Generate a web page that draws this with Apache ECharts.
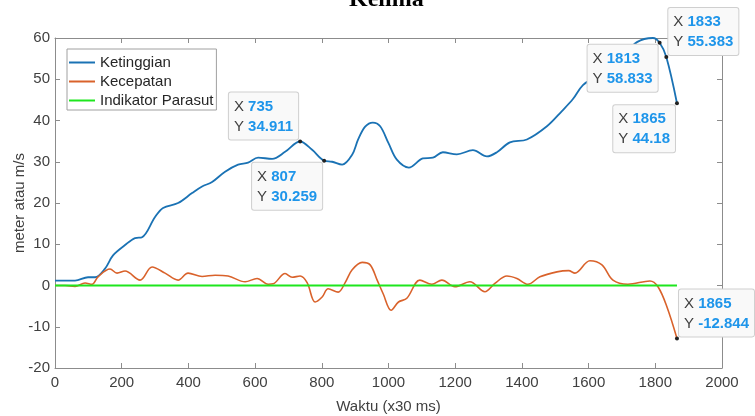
<!DOCTYPE html>
<html><head><meta charset="utf-8">
<script src="https://cdn.jsdelivr.net/npm/echarts@6/dist/echarts.min.js"></script>
<style>html,body{margin:0;padding:0;background:#fff}#c{width:755px;height:416px}</style>
</head><body><div id="c"></div>
<script>
// Ketinggian (altitude)
const heightX = [0,60,99,120,150,174,210,240,261,300,324,369,411,441,471,510,549,579,609,651,690,735,771,807,831,861,891,909,930,953,975,1000,1025,1061,1103,1133,1163,1205,1253,1295,1325,1364,1415,1475,1520,1553,1583,1620,1660,1700,1745,1793,1813,1833,1865];
const heightY = [1.2,1.2,2,2,4.1,7.3,9.8,11.5,11.7,16.6,18.8,20,22.4,24,25.1,27.6,29.3,29.8,31,30.7,32.4,34.911,32.9,30.259,30,29.3,31.7,35.4,38.5,39.5,38.6,34.5,30.5,28.6,30.8,31,32.3,31.8,32.8,31.3,32.3,34.7,35.4,38.6,42.3,45.2,48.6,50.5,52.5,55.3,59,60,58.833,55.383,44.18];
// Kecepatan (speed)
const speedX = [0,30,60,90,111,129,165,186,210,255,291,330,369,399,441,480,519,570,606,639,654,690,711,735,756,780,801,819,849,870,891,921,945,966,984,1008,1030,1055,1094,1130,1160,1199,1244,1289,1319,1355,1385,1418,1454,1505,1540,1559,1604,1640,1673,1718,1784,1808,1835,1865];
const speedY = [0,0,-0.2,0.6,0.3,2.1,4,3,3.5,1.3,4.5,3,1.3,3,2.2,2.5,2.3,0.9,1.7,0.3,0.4,2.9,2.0,2.3,0.7,-4,-2.8,-0.8,-1.6,0.7,3.8,5.6,5,1.3,-2,-6,-4,-3.1,1.3,0.3,1.3,-0.3,0.9,-1.5,0.5,2.3,1.7,0.3,2.1,3.3,3.6,3.0,6,5,1.3,0.3,1.1,-0.3,-5.2,-12.844];
// Indikator Parasut
const chuteX = [0,1865];
const chuteY = [0,0];
// data tips
const heightTipX = [735,807,1813,1833,1865];
const heightTipY = [34.911,30.259,58.833,55.383,44.18];
const speedTipX = [1865];
const speedTipY = [-12.844];
const seriesNames = ['Ketinggian','Kecepatan','Indikator Parasut'];
const titleText = 'Kelima';
const xName = 'Waktu (x30 ms)';
const yName = 'meter atau m/s';

const heightTipPlace = ['ul','dl','dl','ur','dl'];
const speedTipPlace = ['ur'];
const FONT = 'Liberation Sans, Arial, sans-serif';

function pairs(xs, ys){ return xs.map((x,i)=>[x, ys[i]]); }
function tips(xs, ys, places){
  return xs.map((x,i)=>{
    const p = places[i];
    const up = p[0]==='u', left = p[1]==='l';
    return {
      coord:[x, ys[i]],
      label:{
        show:true,
        position:['50%','50%'],
        align: left ? 'right':'left',
        verticalAlign: up ? 'bottom':'top',
        offset:[left?-2:2, up?-2:2],
        formatter:'{k|X }{v|'+x+'}\n{k|Y }{v|'+ys[i]+'}',
        backgroundColor:'#f9f9f9',
        borderColor:'#cfcfcf',
        borderWidth:1,
        borderRadius:2,
        padding:[4,5,3,5],
        fontSize:15,
        fontFamily:FONT,
        lineHeight:20,
        rich:{
          k:{color:'#404040',fontSize:15,fontFamily:FONT,lineHeight:20,align:'left'},
          v:{color:'#1e95ea',fontSize:15,fontWeight:'bold',fontFamily:FONT,lineHeight:20,align:'left'}
        }
      }
    };
  });
}
const mpBase = {symbol:'circle',symbolSize:4,itemStyle:{color:'#222'},silent:true};
const axisCol = '#8c8c8c';
const lblStyle = {color:'#404040',fontSize:15,fontFamily:FONT};
function xAx(pos, main){
  return {type:'value',min:0,max:2000,interval:200,position:pos,
    axisLine:{show:true,onZero:false,lineStyle:{color:axisCol,width:1}},
    axisTick:{show:true,inside:true,length:5,lineStyle:{color:axisCol}},
    axisLabel:Object.assign({show:main,margin:7,formatter:v=>String(v)},lblStyle),
    splitLine:{show:false},
    name: main ? xName : '', nameLocation:'middle', nameGap:31, nameMoveOverlap:false,
    nameTextStyle:Object.assign({},lblStyle)};
}
function yAx(pos, main){
  return {type:'value',min:-20,max:60,interval:10,position:pos,
    axisLine:{show:true,onZero:false,lineStyle:{color:axisCol,width:1}},
    axisTick:{show:true,inside:true,length:5,lineStyle:{color:axisCol}},
    axisLabel:Object.assign({show:main,margin:5,formatter:v=>String(v)},lblStyle),
    splitLine:{show:false},
    name: main ? yName : '', nameLocation:'middle', nameGap:28, nameMoveOverlap:false,
    nameTextStyle:Object.assign({},lblStyle)};
}
const chart = echarts.init(document.getElementById('c'));
chart.setOption({
  animation:false,
  backgroundColor:'#fff',
  title:{text:titleText,left:344,top:-17,textStyle:{fontFamily:'Liberation Serif, Times New Roman, serif',fontSize:24,fontWeight:'bold',color:'#000'}},
  grid:{left:55,right:33,top:38,bottom:48,containLabel:false,outerBoundsMode:'none'},
  legend:{orient:'vertical',left:67,top:49,icon:'rect',itemWidth:26,itemHeight:2,itemGap:4,itemTextGap:3,
    padding:[6,3,2,2],borderColor:'#a0a0a0',borderWidth:1,backgroundColor:'#fff',
    textStyle:{color:'#262626',fontSize:15,fontFamily:FONT,lineHeight:15},
    data:seriesNames},
  xAxis:[xAx('bottom',true),xAx('top',false)],
  yAxis:[yAx('left',true),yAx('right',false)],
  series:[
    {name:seriesNames[0],type:'line',data:pairs(heightX,heightY),smooth:0.35,symbol:'none',
      lineStyle:{color:'#1a72b4',width:1.8},itemStyle:{color:'#1a72b4'},z:2,
      markPoint:Object.assign({data:tips(heightTipX,heightTipY,heightTipPlace)},mpBase)},
    {name:seriesNames[1],type:'line',data:pairs(speedX,speedY),smooth:0.35,symbol:'none',
      lineStyle:{color:'#d9622b',width:1.6},itemStyle:{color:'#d9622b'},z:3,
      markPoint:Object.assign({data:tips(speedTipX,speedTipY,speedTipPlace)},mpBase)},
    {name:seriesNames[2],type:'line',data:pairs(chuteX,chuteY),symbol:'none',
      lineStyle:{color:'#1ee61e',width:1.8},itemStyle:{color:'#1ee61e'},z:4}
  ]
});
</script></body></html>
